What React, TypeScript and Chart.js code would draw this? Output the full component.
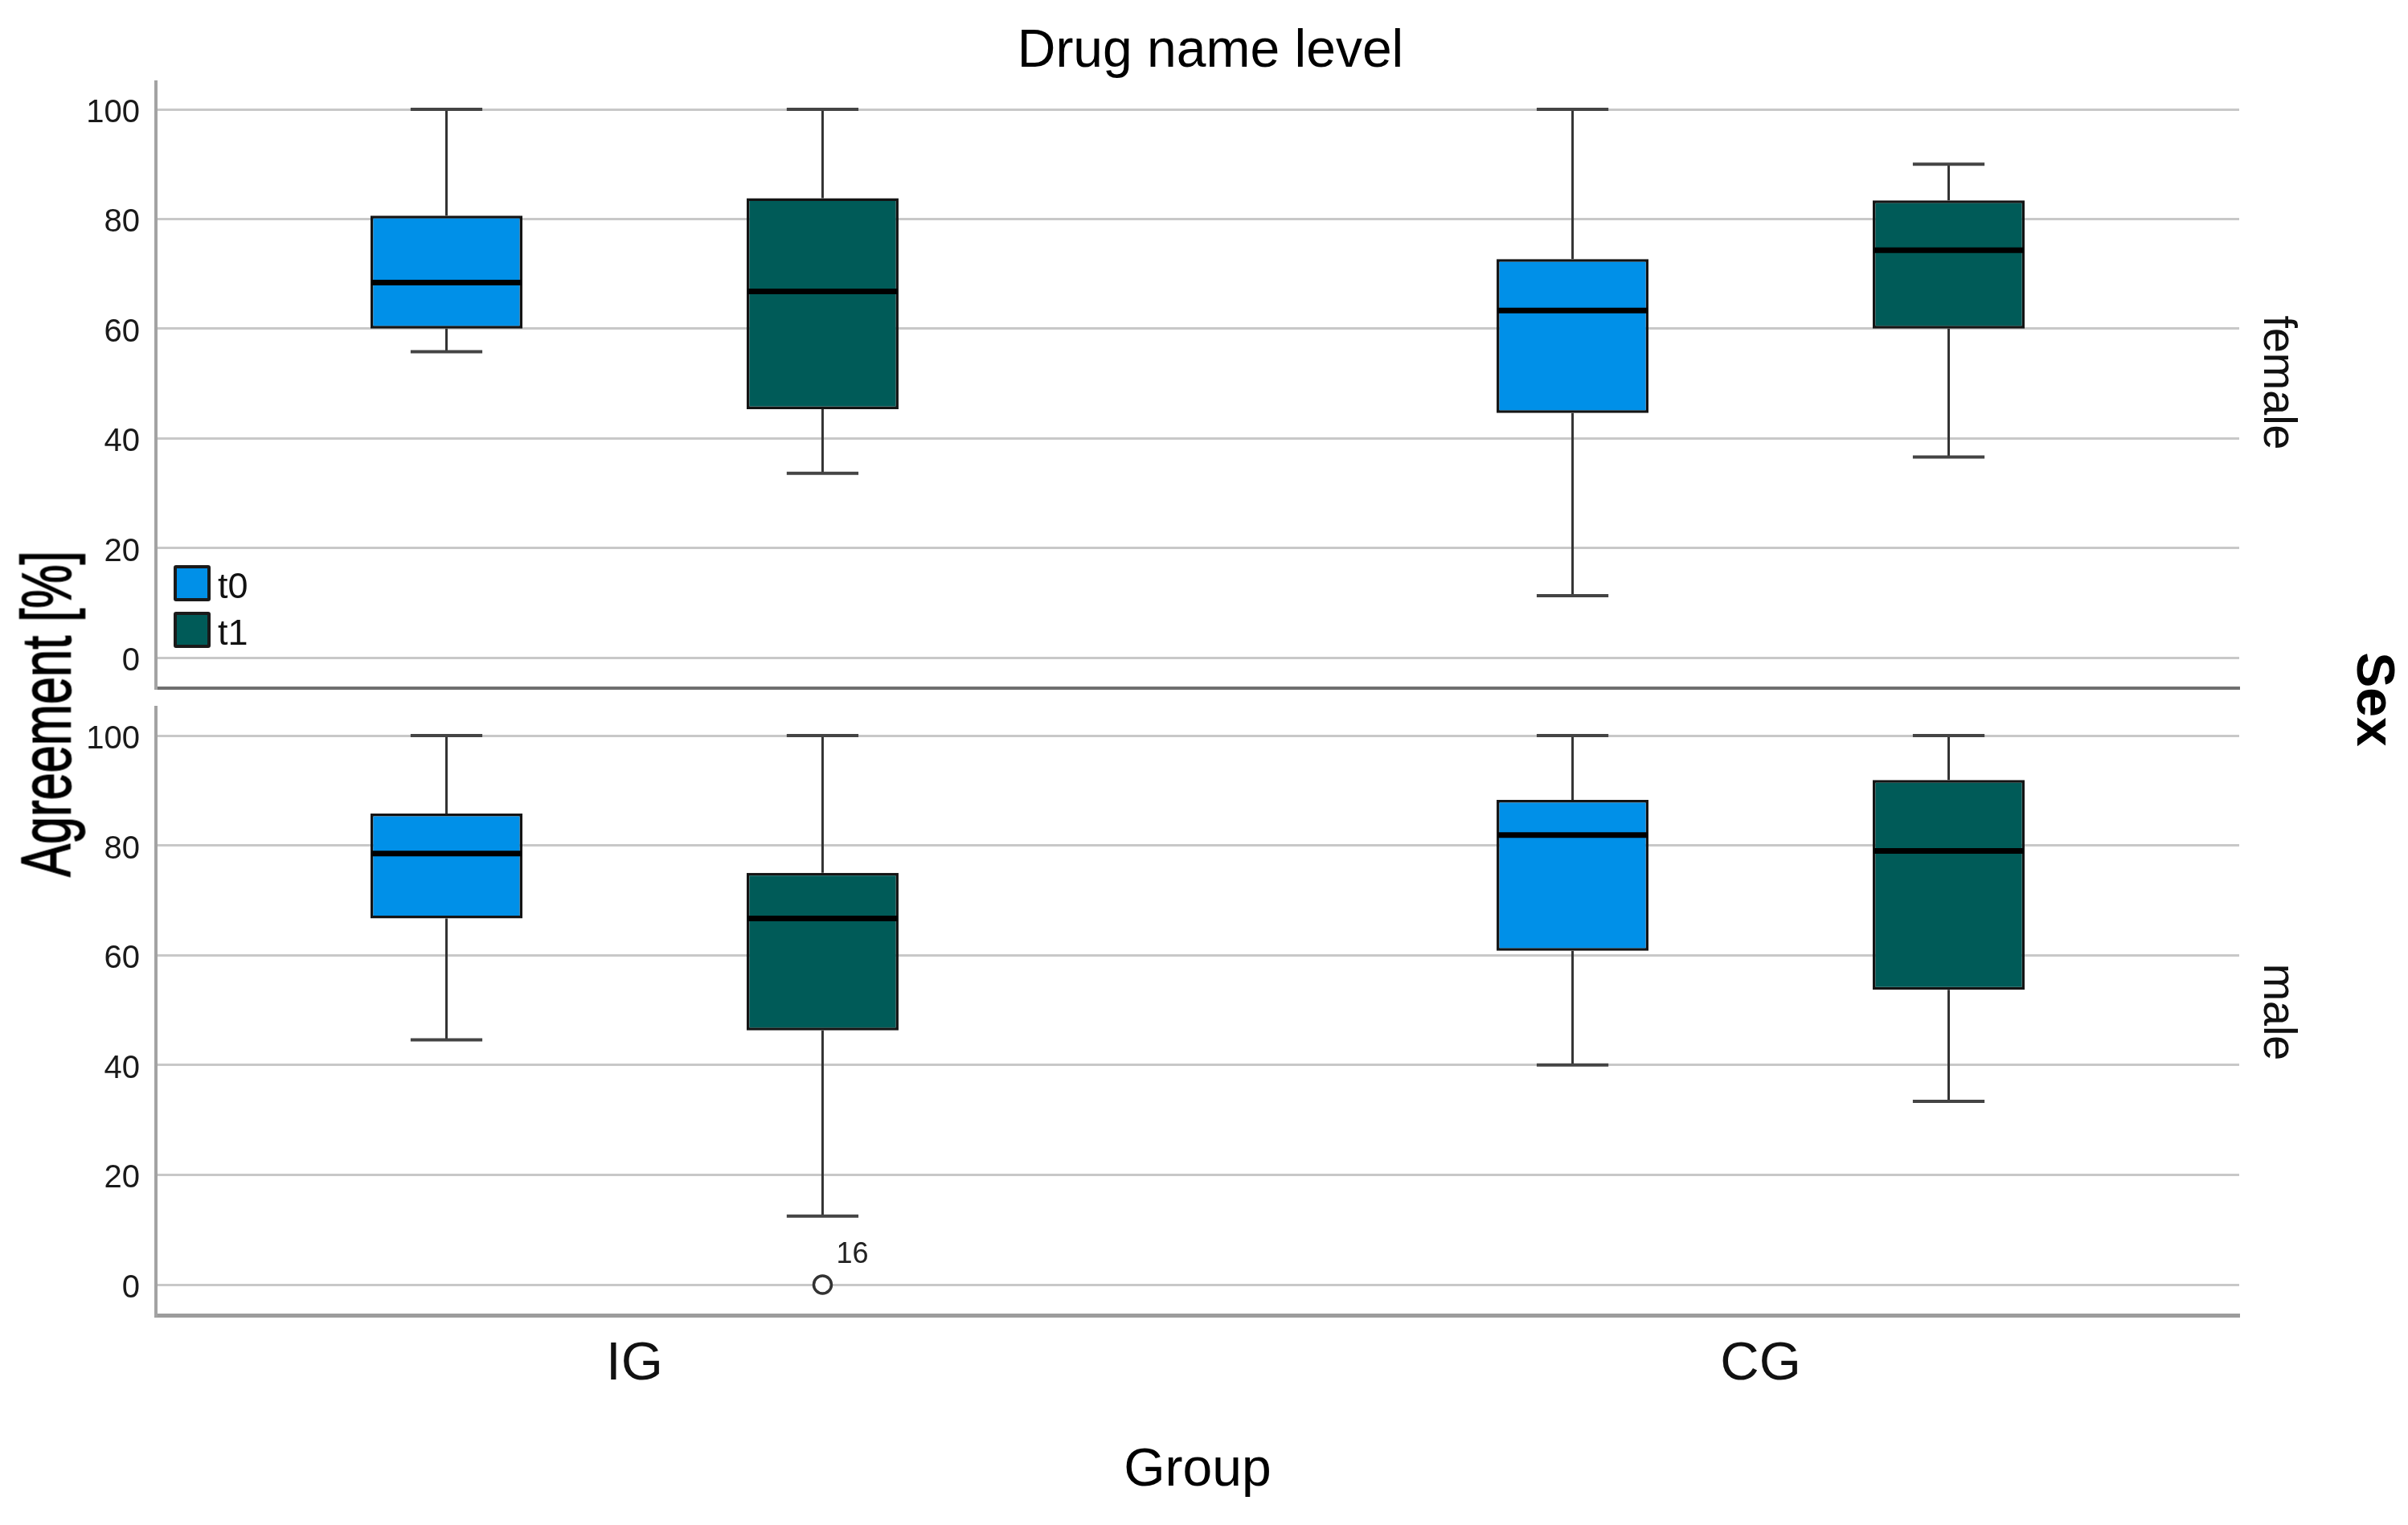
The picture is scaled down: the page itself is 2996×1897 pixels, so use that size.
import React, { useEffect, useRef } from 'react';
import { Chart, registerables } from 'chart.js';

Chart.register(...registerables);

// ---------- data ----------
const GROUPS = ['IG', 'CG'];
const SERIES = ['t0', 't1'];
const Y_TICKS = [0, 20, 40, 60, 80, 100];

// Five-number summaries per group (IG, CG): [lower whisker, Q1, median, Q3, upper whisker]
const FEMALE_T0 = [[55.8, 60.0, 68.4, 80.6, 100], [11.3, 44.6, 63.3, 72.7, 100]];
const FEMALE_T1 = [[33.6, 45.3, 66.8, 83.8, 100], [36.6, 60.0, 74.3, 83.4, 90.0]];
const MALE_T0 = [[44.6, 66.7, 78.5, 85.8, 100], [40.0, 60.8, 81.9, 88.3, 100]];
const MALE_T1 = [[12.5, 46.3, 66.7, 75.0, 100], [33.4, 53.7, 79.0, 91.9, 100]];

// Outliers of the male / t1 series
const MALE_T1_OUTLIER_GROUPS = [0];
const MALE_T1_OUTLIER_VALUES = [0];
const MALE_T1_OUTLIER_CASES = ['16'];

// ---------- styles ----------
const FONT = "'Liberation Sans', Arial, Helvetica, sans-serif";
const COLORS = ['#0090E8', '#005B58'];

type Outlier = { group: number; value: number; label: string };

const maleT1Outliers: Outlier[] = MALE_T1_OUTLIER_GROUPS.map((g, i) => ({
  group: g,
  value: MALE_T1_OUTLIER_VALUES[i],
  label: MALE_T1_OUTLIER_CASES[i],
}));

const boxPlugin = {
  id: 'boxWhiskers',
  afterDatasetsDraw(chart: any) {
    const ctx = chart.ctx;
    const ys = chart.scales.y;
    chart.data.datasets.forEach((ds: any, di: number) => {
      const meta = chart.getDatasetMeta(di);
      (ds.stats as number[][]).forEach((s, i) => {
        const el: any = meta.data[i];
        if (!el) return;
        const cx = el.x;
        const w = el.width;
        const cap = w * 0.236;
        const [lo, q1, med, q3, hi] = s.map((v) => ys.getPixelForValue(v));
        ctx.save();
        ctx.lineCap = 'butt';
        ctx.strokeStyle = '#333';
        ctx.lineWidth = 3;
        ctx.beginPath();
        ctx.moveTo(cx, q3);
        ctx.lineTo(cx, hi);
        ctx.moveTo(cx, q1);
        ctx.lineTo(cx, lo);
        ctx.stroke();
        ctx.strokeStyle = '#444';
        ctx.lineWidth = 4;
        ctx.beginPath();
        ctx.moveTo(cx - cap, hi);
        ctx.lineTo(cx + cap, hi);
        ctx.moveTo(cx - cap, lo);
        ctx.lineTo(cx + cap, lo);
        ctx.stroke();
        ctx.strokeStyle = '#000';
        ctx.lineWidth = 7;
        ctx.beginPath();
        ctx.moveTo(cx - w / 2 + 1.5, med);
        ctx.lineTo(cx + w / 2 - 1.5, med);
        ctx.stroke();
        ctx.restore();
      });
      ((ds.outliers || []) as Outlier[]).forEach((o) => {
        const el: any = meta.data[o.group];
        if (!el) return;
        const py = ys.getPixelForValue(o.value);
        ctx.save();
        ctx.beginPath();
        ctx.arc(el.x, py, 11, 0, Math.PI * 2);
        ctx.fillStyle = '#fff';
        ctx.fill();
        ctx.lineWidth = 3.5;
        ctx.strokeStyle = '#333';
        ctx.stroke();
        ctx.fillStyle = '#222';
        ctx.font = `36px ${FONT}`;
        ctx.textAlign = 'left';
        ctx.textBaseline = 'middle';
        ctx.fillText(o.label, el.x + 17, py - 37);
        ctx.restore();
      });
    });
  },
};

type PanelProps = {
  stats: number[][][];
  outliers: Outlier[][];
  top: number;
  height: number;
  padBottom: number;
  xHeight: number;
  yMin: number;
  yMax: number;
  showX: boolean;
  bottomBorderColor: string;
  bottomBorderWidth: number;
};

function Panel(p: PanelProps) {
  const ref = useRef<HTMLCanvasElement | null>(null);
  useEffect(() => {
    if (!ref.current) return;
    const chart = new Chart(ref.current, {
      type: 'bar',
      data: {
        datasets: SERIES.map((name, si) => ({
          label: name,
          data: p.stats[si].map((s, gi) => ({ x: gi, y: [s[1], s[3]] })),
          stats: p.stats[si],
          outliers: p.outliers[si],
          backgroundColor: COLORS[si],
          borderColor: '#141414',
          borderWidth: 3.5,
          borderSkipped: false,
          barPercentage: 0.404,
          categoryPercentage: 0.668,
        })) as any,
      },
      options: {
        animation: false,
        responsive: true,
        maintainAspectRatio: false,
        events: [],
        layout: { padding: { top: 0, left: 0, right: 14, bottom: p.padBottom } },
        plugins: {
          legend: { display: false },
          tooltip: { enabled: false },
          title: { display: false },
        },
        scales: {
          x: {
            type: 'linear',
            min: -0.425,
            max: 1.425,
            offset: false,
            grid: { display: false, drawTicks: false, offset: false },
            border: { display: true, color: p.bottomBorderColor, width: p.bottomBorderWidth },
            ticks: {
              display: p.showX,
              autoSkip: false,
              maxRotation: 0,
              padding: 21,
              color: '#111',
              font: { family: FONT, size: 67 },
              callback: (v: any) => GROUPS[Number(v)] ?? '',
            },
            afterBuildTicks: (s: any) => {
              s.ticks = GROUPS.map((_, i) => ({ value: i }));
            },
            afterFit: (s: any) => {
              s.height = p.xHeight;
              s.paddingLeft = 0;
              s.paddingRight = 0;
            },
          },
          y: {
            type: 'linear',
            min: p.yMin,
            max: p.yMax,
            grid: { color: '#c8c8c8', lineWidth: 3, drawTicks: false },
            border: { display: true, color: '#a3a3a3', width: 4 },
            ticks: {
              padding: 20,
              labelOffset: 5,
              color: '#1a1a1a',
              font: { family: FONT, size: 40 },
            },
            afterBuildTicks: (s: any) => {
              s.ticks = Y_TICKS.map((v) => ({ value: v }));
            },
            afterFit: (s: any) => {
              s.width = 194;
              s.paddingTop = 0;
              s.paddingBottom = 0;
            },
          },
        } as any,
      },
      plugins: [boxPlugin],
    } as any);
    return () => chart.destroy();
  }, []);
  return (
    <div style={{ position: 'absolute', left: 0, top: p.top, width: 2800, height: p.height }}>
      <canvas ref={ref} />
    </div>
  );
}

const txt = (extra: React.CSSProperties): React.CSSProperties => ({
  position: 'absolute',
  whiteSpace: 'nowrap',
  lineHeight: 1,
  fontFamily: FONT,
  color: '#000',
  ...extra,
});

export default function App() {
  return (
    <div
      style={{
        position: 'fixed',
        left: 0,
        top: 0,
        width: 2996,
        height: 1897,
        background: '#fff',
        overflow: 'hidden',
        fontFamily: FONT,
      }}
    >
      <Panel
        stats={[FEMALE_T0, FEMALE_T1]}
        outliers={[[], []]}
        top={100}
        height={760}
        padBottom={4}
        xHeight={0}
        yMin={-5.57}
        yMax={105.28}
        showX={false}
        bottomBorderColor="#6f6f6f"
        bottomBorderWidth={4}
      />
      <Panel
        stats={[MALE_T0, MALE_T1]}
        outliers={[[], maleT1Outliers]}
        top={878}
        height={900}
        padBottom={20}
        xHeight={122}
        yMin={-5.56}
        yMax={105.42}
        showX={true}
        bottomBorderColor="#9c9c9c"
        bottomBorderWidth={5}
      />

      {/* title */}
      <div style={txt({ left: 1506, top: 60, fontSize: 66, transform: 'translate(-50%, -50%)' })}>
        Drug name level
      </div>

      {/* y axis title */}
      <div
        style={txt({
          left: 57,
          top: 888,
          fontSize: 87,
          WebkitTextStroke: '1.5px #000',
          transform: 'translate(-50%, -50%) rotate(-90deg) scaleX(0.705)',
        })}
      >
        Agreement [%]
      </div>

      {/* panel variable */}
      <div
        style={txt({
          left: 2956,
          top: 870,
          fontSize: 66,
          fontWeight: 'bold',
          transform: 'translate(-50%, -50%) rotate(90deg)',
        })}
      >
        Sex
      </div>
      <div
        style={txt({
          left: 2837,
          top: 476,
          fontSize: 58,
          color: '#111',
          transform: 'translate(-50%, -50%) rotate(90deg) scaleX(0.96)',
        })}
      >
        female
      </div>
      <div
        style={txt({
          left: 2837,
          top: 1259,
          fontSize: 58,
          color: '#111',
          transform: 'translate(-50%, -50%) rotate(90deg) scaleX(0.96)',
        })}
      >
        male
      </div>

      {/* x axis title */}
      <div style={txt({ left: 1490, top: 1825, fontSize: 66, transform: 'translate(-50%, -50%)' })}>
        Group
      </div>

      {/* legend */}
      {SERIES.map((name, i) => (
        <React.Fragment key={name}>
          <div
            style={{
              position: 'absolute',
              left: 216,
              top: 703 + i * 58,
              width: 46,
              height: 45,
              boxSizing: 'border-box',
              background: COLORS[i],
              border: '4px solid #1a1a1a',
              borderRadius: 3,
            }}
          />
          <div
            style={txt({
              left: 271,
              top: 728 + i * 58,
              fontSize: 45,
              color: '#111',
              transform: 'translate(0, -50%)',
            })}
          >
            {name}
          </div>
        </React.Fragment>
      ))}
    </div>
  );
}
